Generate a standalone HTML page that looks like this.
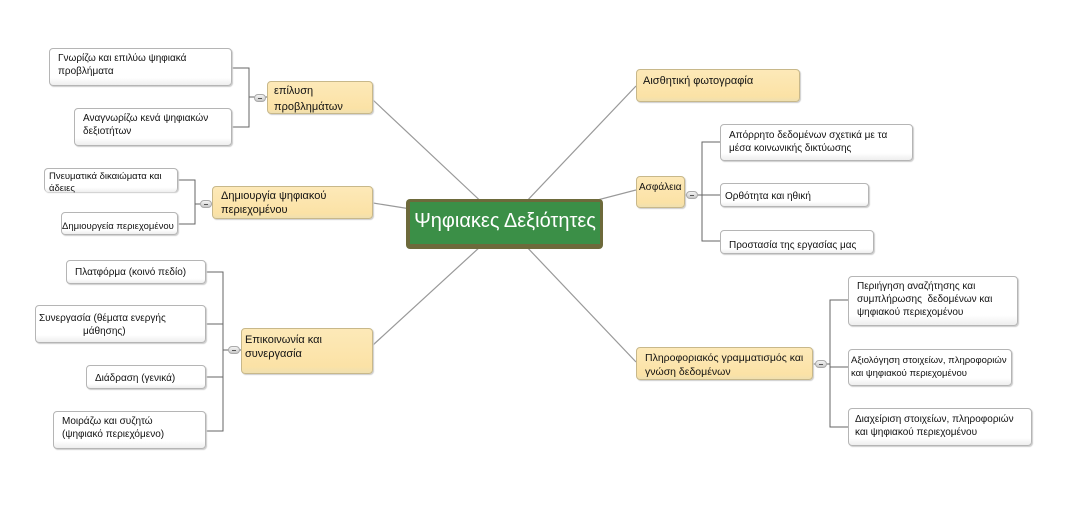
<!DOCTYPE html>
<html><head><meta charset="utf-8"><style>
body{margin:0;width:1071px;height:507px;background:#fff;position:relative;overflow:hidden;font-family:"Liberation Sans","DejaVu Sans",sans-serif;}
.n{position:absolute;box-sizing:border-box;border:1px solid #b5b5b5;border-radius:4px;background:linear-gradient(#fff 80%,#eee);box-shadow:1px 1px 1px #ccc;font-size:10px;line-height:13px;color:#111;padding:3px 6px 3px 8px;white-space:nowrap;overflow:hidden;}
.m{position:absolute;box-sizing:border-box;border:1px solid #c8b88a;border-radius:4px;background:linear-gradient(#fde9b8,#fbe2a6 85%,#efe0b0);box-shadow:1px 1px 1px #ccc;font-size:11px;line-height:14px;color:#111;padding:4px 6px;white-space:nowrap;}
.b{position:absolute;width:12px;height:8px;border-radius:4px;background:linear-gradient(#f4f4f4,#c8c8c8);border:1px solid #aaa;box-sizing:border-box;}
.b:after{content:"";position:absolute;left:3px;top:3px;width:4px;height:1px;background:#555;}
.c{position:absolute;left:406px;top:199px;width:197px;height:50px;box-sizing:border-box;border-radius:4px;background:#6d6a3b;padding:3px 0 0 4px;}
.c div{width:190px;height:42px;background:#3b8f47;color:#fff;font-size:20px;line-height:38px;text-align:center;white-space:nowrap;}
</style></head><body>
<svg width="1071" height="507" style="position:absolute;left:0;top:0">
<g stroke="#999" stroke-width="1.2" fill="none">
<line x1="373" y1="100" x2="505" y2="224"/>
<line x1="373" y1="203" x2="505" y2="224"/>
<line x1="373" y1="345" x2="505" y2="224"/>
<line x1="636" y1="86" x2="505" y2="224"/>
<line x1="636" y1="190" x2="505" y2="224"/>
<line x1="636" y1="362" x2="505" y2="224"/>
</g>
<g stroke="#666" stroke-width="1" fill="none">
<polyline points="232,68 249,68 249,127 232,127"/><line x1="249" y1="97" x2="267" y2="97"/>
<polyline points="178,180 195,180 195,224 178,224"/><line x1="195" y1="204" x2="212" y2="204"/>
<polyline points="206,272 223,272 223,431 206,431"/><line x1="206" y1="324" x2="223" y2="324"/><line x1="206" y1="377" x2="223" y2="377"/><line x1="223" y1="350" x2="241" y2="350"/>
<polyline points="720,142 702,142 702,241 720,241"/><line x1="702" y1="195" x2="720" y2="195"/><line x1="685" y1="195" x2="702" y2="195"/>
<polyline points="848,300 830,300 830,427 848,427"/><line x1="830" y1="367" x2="848" y2="367"/><line x1="813" y1="364" x2="830" y2="364"/>
</g></svg>

<div class="n" style="left:49px;top:48px;width:183px;height:38px">Γνωρίζω και επιλύω ψηφιακά<br>προβλήματα</div>
<div class="n" style="left:74px;top:108px;width:158px;height:38px">Αναγνωρίζω κενά ψηφιακών<br>δεξιοτήτων</div>
<div class="b" style="left:254px;top:94px"></div>
<div class="m" style="left:267px;top:81px;width:106px;height:33px;padding-top:1px;line-height:16px">επίλυση<br>προβλημάτων</div>

<div class="n" style="left:44px;top:168px;width:134px;height:24px;border-bottom:none;padding-top:2px;padding-left:4px;font-size:9.5px;line-height:12px;overflow:visible">Πνευματικά δικαιώματα και<br>άδειες</div>
<div class="n" style="left:61px;top:212px;width:117px;height:23px;padding:7px 0 0 0;font-size:9.5px">Δημιουργεία περιεχομένου</div>
<div class="b" style="left:200px;top:200px"></div>
<div class="m" style="left:212px;top:186px;width:161px;height:33px;padding:2px 8px">Δημιουργία ψηφιακού<br>περιεχομένου</div>

<div class="n" style="left:66px;top:260px;width:140px;height:24px;padding-top:5px">Πλατφόρμα (κοινό πεδίο)</div>
<div class="n" style="left:35px;top:305px;width:171px;height:38px;padding:6px 0 0 3px;text-align:left">Συνεργασία (θέματα ενεργής<br><span style="padding-left:44px">μάθησης)</span></div>
<div class="n" style="left:86px;top:365px;width:120px;height:24px;padding-top:6px">Διάδραση (γενικά)</div>
<div class="n" style="left:53px;top:411px;width:153px;height:38px;padding-top:3px">Μοιράζω και συζητώ<br>(ψηφιακό περιεχόμενο)</div>
<div class="b" style="left:228px;top:346px"></div>
<div class="m" style="left:241px;top:328px;width:132px;height:46px;padding:4px 3px">Επικοινωνία και<br>συνεργασία</div>

<div class="c"><div>Ψηφιακες Δεξιότητες</div></div>

<div class="m" style="left:636px;top:69px;width:164px;height:33px;padding:4px 6px">Αισθητική φωτογραφία</div>
<div class="m" style="left:636px;top:176px;width:49px;height:32px;padding:4px 2px;font-size:10px">Ασφάλεια</div>
<div class="b" style="left:686px;top:191px"></div>
<div class="n" style="left:720px;top:124px;width:193px;height:37px;padding-top:4px">Απόρρητο δεδομένων σχετικά με τα<br>μέσα κοινωνικής δικτύωσης</div>
<div class="n" style="left:720px;top:183px;width:149px;height:24px;padding:6px 4px">Ορθότητα και ηθική</div>
<div class="n" style="left:720px;top:230px;width:154px;height:24px;padding:8px 8px 0">Προστασία της εργασίας μας</div>

<div class="m" style="left:636px;top:347px;width:177px;height:33px;padding:3px 8px;font-size:10.5px">Πληροφοριακός γραμματισμός και<br>γνώση δεδομένων</div>
<div class="b" style="left:815px;top:360px"></div>
<div class="n" style="left:848px;top:276px;width:170px;height:50px;padding-top:3px">Περιήγηση αναζήτησης και<br>συμπλήρωσης&nbsp; δεδομένων και<br>ψηφιακού περιεχομένου</div>
<div class="n" style="left:848px;top:349px;width:164px;height:37px;padding:4px 2px;font-size:9.5px">Αξιολόγηση στοιχείων, πληροφοριών<br>και ψηφιακού περιεχομένου</div>
<div class="n" style="left:848px;top:408px;width:184px;height:38px;padding:4px 6px">Διαχείριση στοιχείων, πληροφοριών<br>και ψηφιακού περιεχομένου</div>
</body></html>
